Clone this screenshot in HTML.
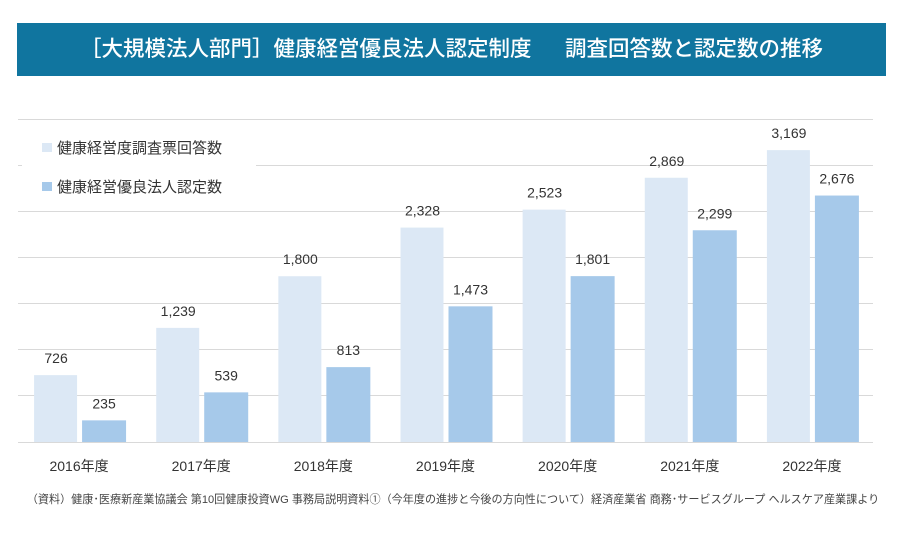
<!DOCTYPE html>
<html><head><meta charset="utf-8"><style>
body{margin:0;width:904px;height:535px;background:#fff;font-family:"Liberation Sans","Noto Sans CJK JP",sans-serif;position:relative;overflow:hidden}
.t{position:absolute;left:17px;top:23px;width:869px;height:53px;background:#10759f;color:#fff;font-size:21.5px;line-height:53px;text-align:center;white-space:pre;font-weight:500}
</style></head><body>
<div class="t">［大規模法人部門］健康経営優良法人認定制度　  調査回答数と認定数の推移</div>
<svg width="904" height="535" style="position:absolute;left:0;top:0" font-family="Liberation Sans, Noto Sans CJK JP, sans-serif">
<g stroke="#d9d9d9" stroke-width="1">
<line x1="18" x2="873" y1="119.5" y2="119.5"/><line x1="18" x2="873" y1="165.5" y2="165.5"/><line x1="18" x2="873" y1="211.5" y2="211.5"/><line x1="18" x2="873" y1="257.5" y2="257.5"/><line x1="18" x2="873" y1="303.5" y2="303.5"/><line x1="18" x2="873" y1="349.5" y2="349.5"/><line x1="18" x2="873" y1="395.5" y2="395.5"/><line x1="18" x2="873" y1="442.5" y2="442.5"/>
</g>
<rect x="22" y="130" width="234" height="70" fill="#fff"/>
<rect x="42" y="143" width="10" height="9" fill="#dce8f5"/>
<rect x="42" y="182" width="10" height="9" fill="#a6c9ea"/>
<text x="57" y="153" font-size="15" fill="#333">健康経営度調査票回答数</text>
<text x="57" y="192" font-size="15" fill="#333">健康経営優良法人認定数</text>
<g id="bars" font-size="14" fill="#333" text-anchor="middle"></g>
<text x="453" y="503" font-size="11.1" fill="#444" text-anchor="middle">（資料）健康･医療新産業協議会 第10回健康投資WG 事務局説明資料①（今年度の進捗と今後の方向性について）経済産業省 商務･サービスグループ ヘルスケア産業課より</text>
</svg>
<script>
var a=[726,1239,1800,2328,2523,2869,3169],b=[235,539,813,1473,1801,2299,2676],s="";
function f(v){return v.toLocaleString("en-US")}
for(var i=0;i<7;i++){var c=18+122.14*(i+0.5),h1=a[i]*0.0921,h2=b[i]*0.0921;
s+='<rect x="'+(c-45)+'" y="'+(442-h1)+'" width="43" height="'+h1+'" fill="#dce8f5"/>';
s+='<rect x="'+(c+3)+'" y="'+(442-h2)+'" width="44" height="'+h2+'" fill="#a6c9ea"/>';
s+='<text x="'+(c-23)+'" y="'+(442-h1-12)+'">'+f(a[i])+'</text>';
s+='<text x="'+(c+25)+'" y="'+(442-h2-12)+'">'+f(b[i])+'</text>';
s+='<text x="'+c+'" y="471">'+(2016+i)+'年度</text>';}
document.getElementById("bars").innerHTML=s;
</script>
</body></html>
